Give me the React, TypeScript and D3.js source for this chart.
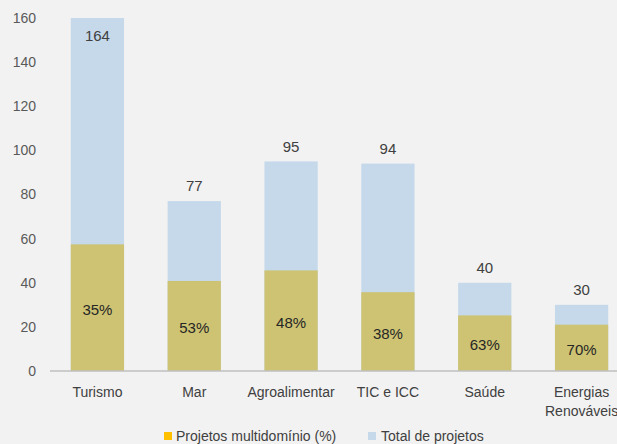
import React from "react";
import * as d3 from "d3";

const categories = ["Turismo", "Mar", "Agroalimentar", "TIC e ICC", "Saúde", "Energias\nRenováveis"];
const totalProjects = [164, 77, 95, 94, 40, 30];
const multiShare = [35, 53, 48, 38, 63, 70];
const yTicks = [0, 20, 40, 60, 80, 100, 120, 140, 160];
const legendLabels = ["Projetos multidomínio (%)", "Total de projetos"];

const W = 617;
const H = 444;
const FONT = "'Liberation Sans', Arial, sans-serif";

export default function App() {
  const x = d3.scaleBand<string>().domain(categories).range([49, 630]).paddingInner(0.45).paddingOuter(0.225);
  const y = d3.scaleLinear().domain([0, 160]).range([371, 18]);
  const yMax = 160;
  const multi = totalProjects.map((t, i) => (t * multiShare[i]) / 100);

  return (
    <svg width={W} height={H} style={{ position: "absolute", left: 0, top: 0, fontFamily: FONT }}>
      <rect x={0} y={0} width={W} height={H} fill="#f2f2f2" />
      {yTicks.map((t) => (
        <text key={t} x={36} y={y(t)} dy="0.35em" textAnchor="end" fontSize={14} fill="#595959">
          {t}
        </text>
      ))}
      {categories.map((c, i) => {
        const bx = x(c)!;
        const bw = x.bandwidth();
        const tot = Math.min(totalProjects[i], yMax);
        const clipped = totalProjects[i] > yMax;
        const yTop = y(tot);
        const yMulti = y(multi[i]);
        const lines = c.split("\n");
        return (
          <g key={c}>
            <rect x={bx} y={yTop} width={bw} height={y(0) - yTop} fill="#c5d9eb" />
            <rect x={bx} y={yMulti} width={bw} height={y(0) - yMulti} fill="#cdc372" />
            <text
              x={bx + bw / 2}
              y={clipped ? yTop + 18 : yTop - 15}
              dy="0.35em"
              textAnchor="middle"
              fontSize={15}
              fill="#404040"
            >
              {totalProjects[i]}
            </text>
            <text
              x={bx + bw / 2}
              y={(yMulti + y(0)) / 2 + 2}
              dy="0.35em"
              textAnchor="middle"
              fontSize={15}
              fill="#262626"
            >
              {multiShare[i]}%
            </text>
            {lines.map((l, k) => (
              <text
                key={k}
                x={bx + bw / 2}
                y={392 + k * 19}
                dy="0.35em"
                textAnchor="middle"
                fontSize={14}
                fill="#404040"
              >
                {l}
              </text>
            ))}
          </g>
        );
      })}
      <line x1={50} x2={W} y1={y(0)} y2={y(0)} stroke="#bfbfbf" strokeWidth={1.5} />
      <g>
        <rect x={164} y={432} width={8} height={8} fill="#ffc000" />
        <text x={176} y={436} dy="0.35em" fontSize={14} fill="#404040">
          {legendLabels[0]}
        </text>
        <rect x={368} y={432} width={8} height={8} fill="#c5d9eb" />
        <text x={381} y={436} dy="0.35em" fontSize={14} fill="#404040">
          {legendLabels[1]}
        </text>
      </g>
    </svg>
  );
}
